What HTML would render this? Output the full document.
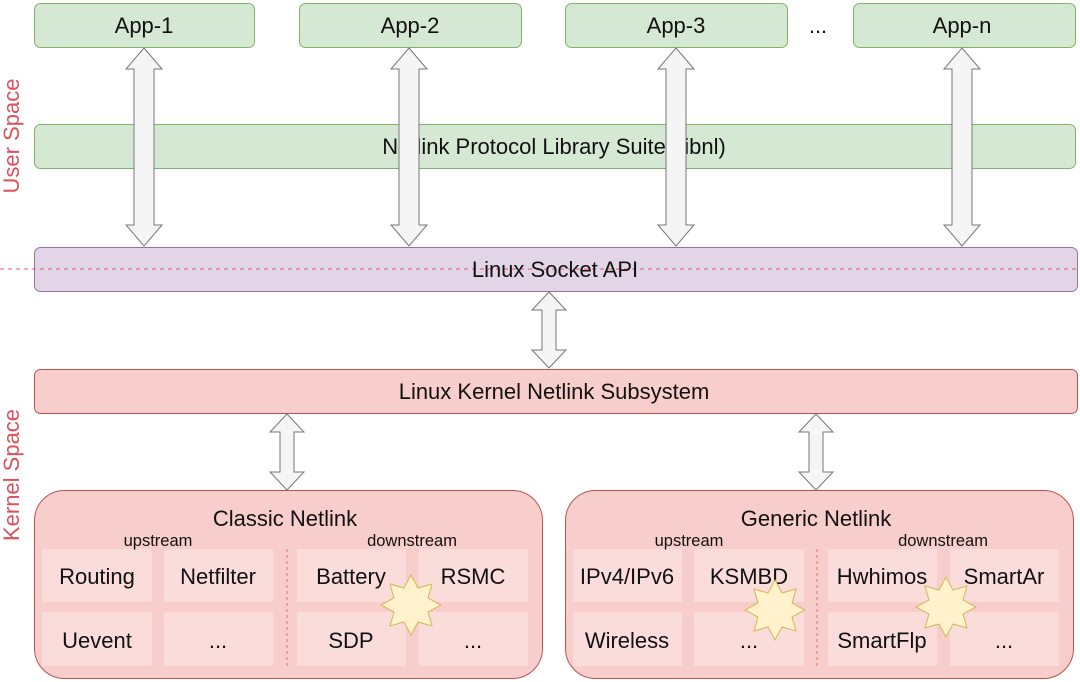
<!DOCTYPE html>
<html><head><meta charset="utf-8"><style>
html,body{margin:0;padding:0;background:#fff;}
svg{display:block;}
text{font-family:"Liberation Sans",Arial,sans-serif;fill:#111;}
</style></head><body>
<svg width="1080" height="682" viewBox="0 0 1080 682" xmlns="http://www.w3.org/2000/svg">
<g fill="#d5e8d4" stroke="#82b366" stroke-width="1">
<rect x="34.5" y="3.5" width="220" height="44" rx="6"/>
<rect x="299.5" y="3.5" width="222" height="44" rx="6"/>
<rect x="565.5" y="3.5" width="222" height="44" rx="6"/>
<rect x="853.5" y="3.5" width="222" height="44" rx="6"/>
<rect x="34.5" y="124.5" width="1041" height="44" rx="6"/>
</g>
<g font-size="22" text-anchor="middle">
<text x="144" y="33">App-1</text>
<text x="410" y="33">App-2</text>
<text x="676" y="33">App-3</text>
<text x="962" y="33">App-n</text>
<text x="818" y="33">...</text>
<text x="554" y="154">Netlink Protocol Library Suite (libnl)</text>
</g>
<rect x="34.5" y="247.5" width="1043" height="44" rx="6" fill="#e1d5e7" stroke="#9673a6"/>
<line x1="0" y1="269" x2="1080" y2="269" stroke="#e06060" stroke-dasharray="4,4" stroke-width="1"/>
<text x="555" y="277" font-size="22" text-anchor="middle">Linux Socket API</text>
<g fill="#f5f5f5" stroke="#777" stroke-width="1">
<polygon points="144,48 162,69 154,69 154,225 162,225 144,246 126,225 134,225 134,69 126,69"/>
<polygon points="409,48 427,69 419,69 419,225 427,225 409,246 391,225 399,225 399,69 391,69"/>
<polygon points="676,48 694,69 686,69 686,225 694,225 676,246 658,225 666,225 666,69 658,69"/>
<polygon points="962,48 980,69 972,69 972,225 980,225 962,246 944,225 952,225 952,69 944,69"/>
<polygon points="549,292 566,310 556,310 556,350 566,350 549,368 532,350 542,350 542,310 532,310"/>
<polygon points="287,414 304,432 294,432 294,472 304,472 287,490 270,472 280,472 280,432 270,432"/>
<polygon points="816,414 833,432 823,432 823,472 833,472 816,490 799,472 809,472 809,432 799,432"/>
</g>
<rect x="34.5" y="369.5" width="1043" height="44" rx="6" fill="#f8cecc" stroke="#b85450"/>
<text x="554" y="399" font-size="22" text-anchor="middle">Linux Kernel Netlink Subsystem</text>
<rect x="34.5" y="490.5" width="508" height="188" rx="30" fill="#f8cecc" stroke="#b85450"/>
<rect x="565.5" y="490.5" width="508" height="188" rx="30" fill="#f8cecc" stroke="#b85450"/>
<g fill="#fadcdb">
<rect x="42" y="549" width="110" height="53"/><rect x="164" y="549" width="109" height="53"/>
<rect x="297" y="549" width="109" height="53"/><rect x="419" y="549" width="109" height="53"/>
<rect x="42" y="612" width="110" height="54"/><rect x="164" y="612" width="109" height="54"/>
<rect x="297" y="612" width="109" height="54"/><rect x="419" y="612" width="109" height="54"/>
<rect x="573" y="549" width="109" height="53"/><rect x="694" y="549" width="110" height="53"/>
<rect x="828" y="549" width="109" height="53"/><rect x="950" y="549" width="109" height="53"/>
<rect x="573" y="612" width="109" height="54"/><rect x="694" y="612" width="110" height="54"/>
<rect x="828" y="612" width="109" height="54"/><rect x="950" y="612" width="109" height="54"/>
</g>
<g stroke="#e07070" stroke-dasharray="3,3" stroke-width="1">
<line x1="287" y1="549" x2="287" y2="666"/>
<line x1="817" y1="549" x2="817" y2="666"/>
</g>
<g font-size="22" text-anchor="middle">
<text x="285" y="526">Classic Netlink</text>
<text x="816" y="526">Generic Netlink</text>
<text x="97" y="584">Routing</text><text x="218" y="584">Netfilter</text>
<text x="351" y="584">Battery</text><text x="473" y="584">RSMC</text>
<text x="97" y="648">Uevent</text><text x="218" y="648">...</text>
<text x="351" y="648">SDP</text><text x="473" y="648">...</text>
<text x="627" y="584">IPv4/IPv6</text><text x="749" y="584">KSMBD</text>
<text x="882" y="584">Hwhimos</text><text x="1004" y="584">SmartAr</text>
<text x="627" y="648">Wireless</text><text x="749" y="648">...</text>
<text x="882" y="648">SmartFlp</text><text x="1004" y="648">...</text>
</g>
<g font-size="16.5" text-anchor="middle">
<text x="158" y="546">upstream</text><text x="412" y="546">downstream</text>
<text x="689" y="546">upstream</text><text x="943" y="546">downstream</text>
</g>
<g fill="#fff2cc" stroke="#d6b656" stroke-width="1">
<polygon points="411,575 418,588 432,584 428,598 441,605 428,612 432,626 418,622 411,635 404,622 390,626 394,612 381,605 394,598 390,584 404,588"/>
<polygon points="775,580 782,593 796,589 792,603 805,610 792,617 796,631 782,627 775,640 768,627 754,631 758,617 745,610 758,603 754,589 768,593"/>
<polygon points="946,577 953,590 967,586 963,600 976,607 963,614 967,628 953,624 946,637 939,624 925,628 929,614 916,607 929,600 925,586 939,590"/>
</g>
<g font-size="22" text-anchor="middle">
<text x="0" y="0" transform="translate(19,136) rotate(-90)" style="fill:#e0505a">User Space</text>
<text x="0" y="0" transform="translate(19,475) rotate(-90)" style="fill:#e0505a">Kernel Space</text>
</g>
</svg>
</body></html>
